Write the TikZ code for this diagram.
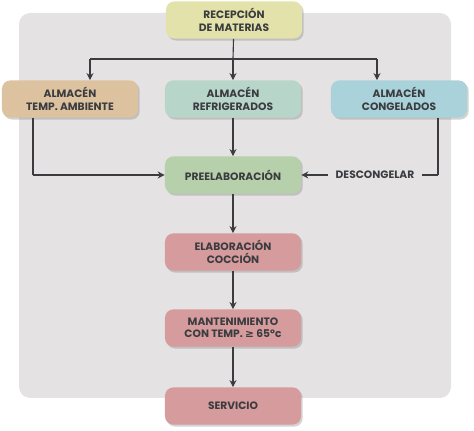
\documentclass[tikz,border=0pt]{standalone}
\usepackage{fontspec}
\setmainfont{Poppins}
\newfontfamily\symfont{DejaVu Sans}
\usetikzlibrary{shadows,arrows.meta}
\definecolor{bgGray}{HTML}{E4E2E3}
\definecolor{recepcionCol}{HTML}{E2E2AA}
\definecolor{ambienteCol}{HTML}{DDC29F}
\definecolor{refrigCol}{HTML}{B8D5CA}
\definecolor{congelCol}{HTML}{AAD2DA}
\definecolor{preelabCol}{HTML}{B5D0AB}
\definecolor{coccionCol}{HTML}{D59B9D}
\definecolor{inkCol}{HTML}{3B3C3F}
\tikzset{
  stage/.style={rounded corners=6pt, minimum width=3.4cm, minimum height=0.93cm,
    align=center, text=inkCol, font=\fontsize{7.6}{8.8}\selectfont\bfseries,
    drop shadow={shadow xshift=1.2pt, shadow yshift=-1.4pt, opacity=0.35}},
  flow/.style={draw=inkCol, line width=0.8pt},
  flowarrow/.style={flow, -{Stealth[length=5pt,width=5pt]}}
}
\begin{document}
\begin{tikzpicture}[x=0.025cm, y=-0.025cm]
    \useasboundingbox (0,0) rectangle (474,431);
    \fill[bgGray, rounded corners=8pt] (19,13) rectangle (451,398);
    % storage and process nodes
    \node[stage, fill=recepcionCol] (recepcion) at (234, 20) {RECEPCIÓN\\DE MATERIAS};
    \node[stage, fill=ambienteCol] (ambiente) at (70, 99) {ALMACÉN\\TEMP. AMBIENTE};
    \node[stage, fill=refrigCol] (refrig) at (233, 99) {ALMACÉN\\REFRIGERADOS};
    \node[stage, fill=congelCol] (congel) at (399, 99) {ALMACÉN\\CONGELADOS};
    \node[stage, fill=preelabCol] (preelab) at (233, 175) {PREELABORACIÓN};
    \node[stage, fill=coccionCol] (coccion) at (233, 252) {ELABORACIÓN\\COCCIÓN};
    \node[stage, fill=coccionCol] (mant) at (233, 328) {MANTENIMIENTO\\CON TEMP. {\symfont ≥} 65ºc};
    \node[stage, fill=coccionCol] (servicio) at (233, 406) {SERVICIO};
    \node[text=inkCol, font=\fontsize{7.6}{8.8}\selectfont\bfseries, inner xsep=5pt] (descong) at (375, 175) {DESCONGELAR};
    % branch points
    \coordinate (split_m) at (233, 59);
    \coordinate (split_l) at (90, 59);
    \coordinate (split_r) at (377, 59);
    \coordinate (amb_1) at (33, 118);
    \coordinate (amb_2) at (33, 175);
    \coordinate (cong_1) at (438, 118);
    \coordinate (cong_2) at (438, 175);
    \draw[flow] (recepcion) -- (split_m);
    \draw[flow] (split_l) -- (split_r);
    \draw[flowarrow] (split_l) -- (split_l |- ambiente.north);
    \draw[flowarrow] (split_m) -- (refrig);
    \draw[flowarrow] (split_r) -- (split_r |- congel.north);
    \draw[flow] (amb_1) -- (amb_2);
    \draw[flowarrow] (amb_2) -- (preelab);
    \draw[flowarrow] (refrig) -- (preelab);
    \draw[flow] (cong_1) -- (cong_2);
    \draw[flow] (cong_2) -- (descong);
    \draw[flowarrow] (descong) -- (preelab);
    \draw[flowarrow] (preelab) -- (coccion);
    \draw[flowarrow] (coccion) -- (mant);
    \draw[flowarrow] (mant) -- (servicio);
\end{tikzpicture}
\end{document}
